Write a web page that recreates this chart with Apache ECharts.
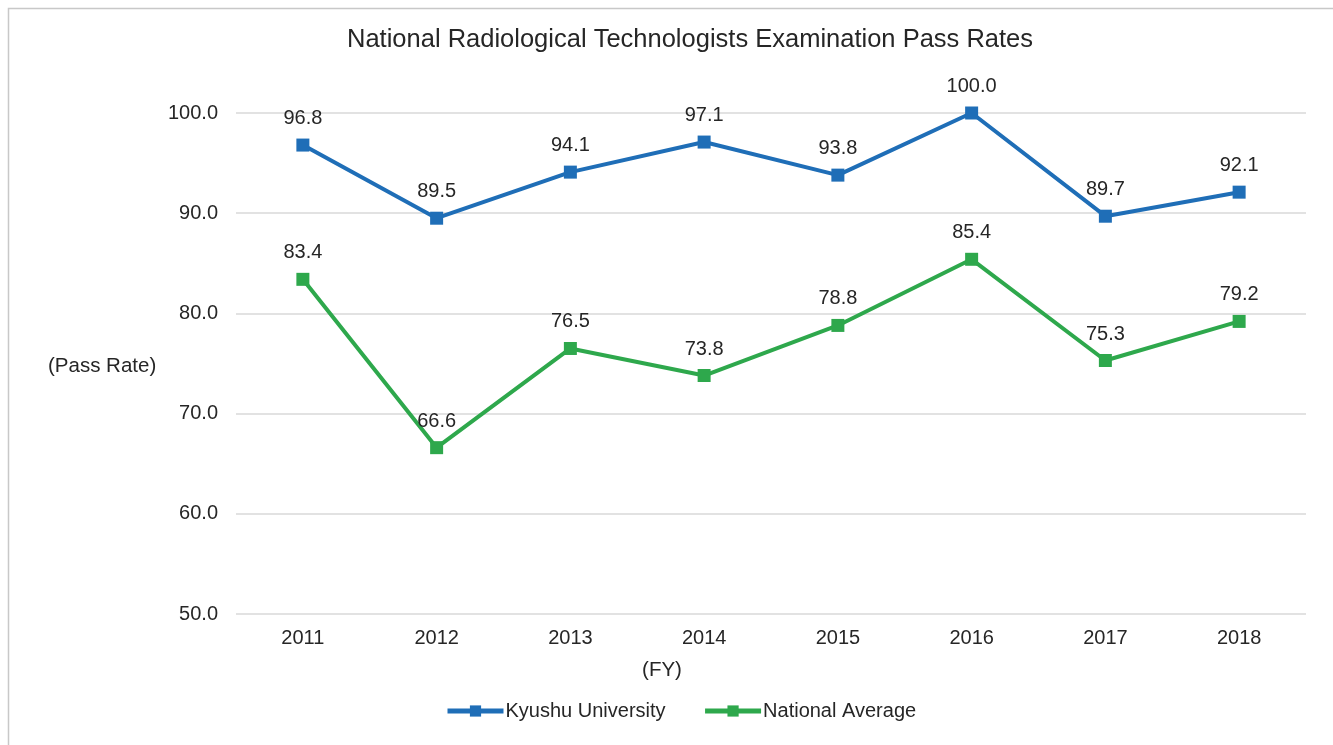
<!DOCTYPE html>
<html>
<head>
<meta charset="utf-8">
<script src="https://cdn.jsdelivr.net/npm/echarts@6/dist/echarts.min.js"></script>
<style>
html,body{margin:0;padding:0;background:#fff;}
#c{width:1333px;height:745px;}
</style>
</head>
<body>
<div id="c"></div>
<script>
const categories = ['2011','2012','2013','2014','2015','2016','2017','2018'];
const kyushu = [96.8, 89.5, 94.1, 97.1, 93.8, 100.0, 89.7, 92.1];
const national = [83.4, 66.6, 76.5, 73.8, 78.8, 85.4, 75.3, 79.2];
const seriesNames = ['Kyushu University', 'National Average'];

const chart = echarts.init(document.getElementById('c'));
const font = 'Arial, "Liberation Sans", sans-serif';
const txt = '#262626';
function lineSeries(name, data, color) {
  return {
    name: name, type: 'line', data: data,
    symbol: 'rect', symbolSize: 13,
    lineStyle: {color: color, width: 4},
    itemStyle: {color: color},
    label: {show: true, position: 'top', distance: 10, color: txt, fontSize: 20, fontFamily: font,
      formatter: p => p.value.toFixed(1)},
    animation: false
  };
}
chart.setOption({
  animation: false,
  graphic: [
    {type: 'rect', shape: {x: 8.5, y: 8.5, width: 1400, height: 800}, style: {fill: 'none', stroke: '#c8c8c8', lineWidth: 1.5}, silent: true},
    {type: 'text', x: 690, y: 40, style: {text: 'National Radiological Technologists Examination Pass Rates', fontSize: 25.5, fill: txt, fontFamily: font, align: 'center', verticalAlign: 'middle'}, silent: true},
    {type: 'text', x: 48, y: 366, style: {text: '(Pass Rate)', fontSize: 20.5, fill: txt, fontFamily: font, align: 'left', verticalAlign: 'middle'}, silent: true},
    {type: 'text', x: 662, y: 670, style: {text: '(FY)', fontSize: 20.5, fill: txt, fontFamily: font, align: 'center', verticalAlign: 'middle'}, silent: true}
  ],
  legend: {top: 696, left: 440, itemWidth: 56, itemHeight: 14, itemGap: 37,
    textStyle: {fontSize: 20, color: txt, fontFamily: font, padding: [0, 0, 0, -3]},
    lineStyle: {width: 5},
    data: seriesNames},
  grid: {left: 236, right: 27, top: 113, bottom: 131, containLabel: false},
  xAxis: {type: 'category', data: categories, boundaryGap: true,
    axisLine: {show: false}, axisTick: {show: false},
    axisLabel: {fontSize: 20, color: txt, fontFamily: font, margin: 14}},
  yAxis: {type: 'value', min: 50, max: 100, interval: 10,
    axisLine: {show: false}, axisTick: {show: false},
    axisLabel: {fontSize: 20, color: txt, fontFamily: font, margin: 18, formatter: v => v.toFixed(1)},
    splitLine: {lineStyle: {color: '#d9d9d9', width: 1.5}}},
  series: [lineSeries(seriesNames[0], kyushu, '#1f6eb7'), lineSeries(seriesNames[1], national, '#2ea84c')]
});
</script>
</body>
</html>
